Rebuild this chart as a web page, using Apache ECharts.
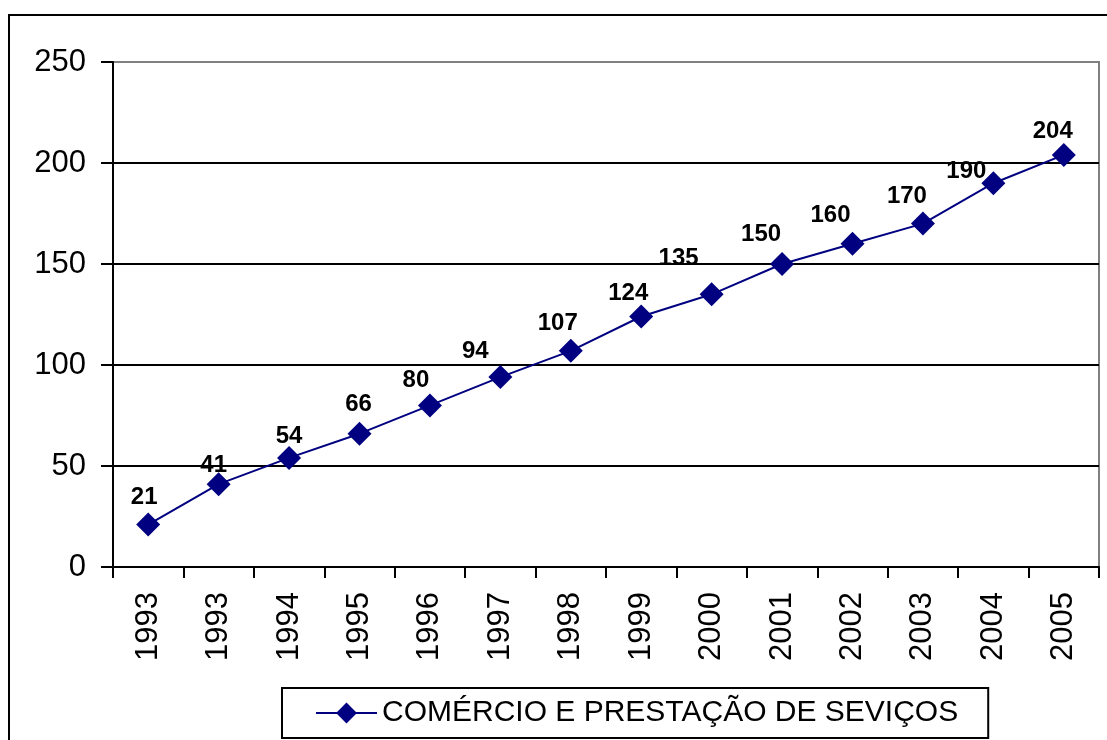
<!DOCTYPE html>
<html>
<head>
<meta charset="utf-8">
<script src="https://cdn.jsdelivr.net/npm/echarts@6/dist/echarts.min.js"></script>
<style>
  html, body { margin: 0; padding: 0; background: #fff; }
  #chart { width: 1107px; height: 740px; }
</style>
</head>
<body>
<div id="chart"></div>
<script>
// dados do gráfico
var anos = ["1993", "1993", "1994", "1995", "1996", "1997", "1998", "1999", "2000", "2001", "2002", "2003", "2004", "2005"]
var valores = [21, 41, 54, 66, 80, 94, 107, 124, 135, 150, 160, 170, 190, 204]
var nomeSerie = "COMÉRCIO E PRESTAÇÃO DE SEVIÇOS"

// deslocamento dos rótulos, como no original (estilo, não dados)
var ajusteRotulo = [
  [-4, -1], [-5, 7], [0, 4], [-1, -3], [-14, 1], [-25, 0], [-13, -1],
  [-13, 3], [-33, -10], [-21, -4], [-22, -2], [-16, -1], [-27, 14], [-11, 2],
]

var myChart = echarts.init(document.getElementById("chart"))

var dadosSerie = valores.map(function (v, i) {
  return { value: v, label: { offset: ajusteRotulo[i] } }
})

var option = {
  animation: false,
  textStyle: { fontFamily: "Liberation Sans, Arial, sans-serif" },
  graphic: [
    {
      type: "rect",
      shape: { x: 9, y: 15, width: 1120, height: 760 },
      style: { fill: "none", stroke: "#000", lineWidth: 2 },
      silent: true,
    },
  ],
  grid: {
    left: 113,
    right: 8,
    top: 62,
    bottom: 173,
    show: true,
    backgroundColor: "#fff",
    borderColor: "#808080",
    borderWidth: 2,
  },
  legend: {
    left: 282,
    top: 688,
    padding: [10, 30, 10, 33],
    borderColor: "#000",
    borderWidth: 2,
    itemWidth: 61,
    itemHeight: 26,
    itemGap: 6,
    textStyle: { fontSize: 30, color: "#000", fontFamily: "Liberation Sans, Arial, sans-serif" },
    data: [nomeSerie],
  },
  xAxis: {
    type: "category",
    data: anos,
    boundaryGap: true,
    axisLine: { lineStyle: { color: "#000", width: 2 } },
    axisTick: { show: true, length: 11, lineStyle: { color: "#000", width: 2 } },
    axisLabel: {
      rotate: 90,
      margin: 25,
      fontSize: 31,
      color: "#000",
      interval: 0,
    },
    splitLine: { show: false },
  },
  yAxis: {
    type: "value",
    min: 0,
    max: 250,
    interval: 50,
    axisLine: { show: true, lineStyle: { color: "#000", width: 2 } },
    axisTick: { show: true, length: 12, lineStyle: { color: "#000", width: 2 } },
    axisLabel: { fontSize: 31, color: "#000", margin: 27 },
    // a linha do topo (250) fica cinza, como a borda da área
    splitLine: {
      show: true,
      lineStyle: { color: ["#000", "#000", "#000", "#000", "#000", "#808080"], width: 2 },
    },
  },
  series: [
    {
      name: nomeSerie,
      type: "line",
      data: dadosSerie,
      symbol: "diamond",
      symbolSize: 24,
      color: "#000080",
      lineStyle: { color: "#000080", width: 2 },
      itemStyle: { color: "#000080" },
      label: {
        show: true,
        position: "top",
        distance: 2,
        fontSize: 24,
        fontWeight: "bold",
        color: "#000",
      },
    },
  ],
}

myChart.setOption(option)
</script>
</body>
</html>
